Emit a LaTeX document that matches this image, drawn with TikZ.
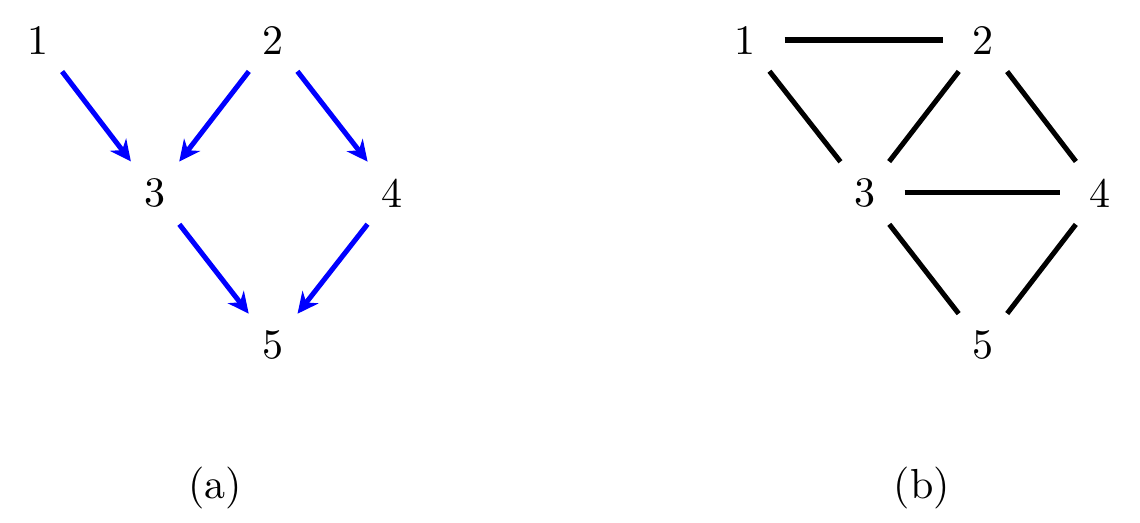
\documentclass[tikz,border=0pt]{standalone}
\usepackage{tikz}
\usetikzlibrary{arrows.meta}
\tikzset{
	vertex/.style={circle, minimum size=0.65cm, inner sep=0pt},
	diedge/.style={very thick, color=blue, -{Stealth[length=5pt, width=4.8pt, inset=1.6pt]}},
	unedge/.style={very thick, color=black}
}

\begin{document}
\begin{tikzpicture}
			%%%%% START %%%%%
			
			\useasboundingbox (0, 0) rectangle (9.54, -4.37);
			
			% (a) directed
			\node[vertex] (a1) at (0.318, -0.335) {1};
			\node[vertex] (a2) at (2.285, -0.335) {2};
			\node[vertex] (a3) at (1.297, -1.615) {3};
			\node[vertex] (a4) at (3.280, -1.615) {4};
			\node[vertex] (a5) at (2.285, -2.887) {5};
			\node (capa) at (1.80, -4.08) {(a)};
			
			\draw[diedge] (a1) -- (a3);
			\draw[diedge] (a2) -- (a3);
			\draw[diedge] (a2) -- (a4);
			\draw[diedge] (a3) -- (a5);
			\draw[diedge] (a4) -- (a5);
			
			% (b) undirected
			\node[vertex] (b1) at (6.234, -0.335) {1};
			\node[vertex] (b2) at (8.226, -0.335) {2};
			\node[vertex] (b3) at (7.238, -1.615) {3};
			\node[vertex] (b4) at (9.205, -1.615) {4};
			\node[vertex] (b5) at (8.226, -2.887) {5};
			\node (capb) at (7.715, -4.08) {(b)};
			
			\draw[unedge] (b1) -- (b2);
			\draw[unedge] (b1) -- (b3);
			\draw[unedge] (b2) -- (b3);
			\draw[unedge] (b2) -- (b4);
			\draw[unedge] (b3) -- (b4);
			\draw[unedge] (b3) -- (b5);
			\draw[unedge] (b4) -- (b5);
			
			%%%%% END %%%%%
		\end{tikzpicture}
\end{document}
